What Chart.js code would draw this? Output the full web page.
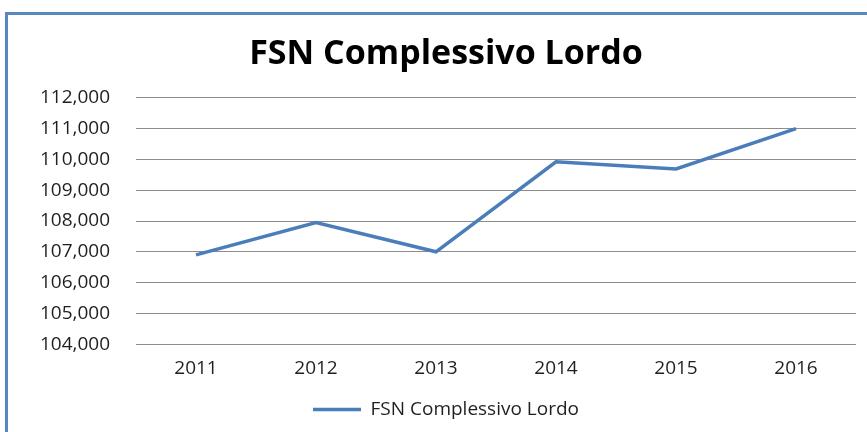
<!DOCTYPE html>
<html>
<head>
<meta charset="utf-8">
<script src="https://cdn.jsdelivr.net/npm/chart.js@4/dist/chart.umd.min.js"></script>
<style>
  html, body { margin: 0; padding: 0; background: #fff; overflow: hidden; }
  #frame { position: absolute; left: 5px; top: 12px; width: 900px; height: 440px;
           border-left: 3px solid #5B87C0; border-top: 3px solid #5B87C0; }
  #my-chart { position: absolute; left: 0; top: 0; }
</style>
</head>
<body>
<div id="frame"></div>
<canvas id="my-chart" width="867" height="432"></canvas>
<script>
// chart data
const years = ['2011', '2012', '2013', '2014', '2015', '2016']
const fsnValues = [106900, 107950, 107000, 109920, 109690, 111000]
const seriesName = 'FSN Complessivo Lordo'
const yMin = 104000
const yMax = 112000
const yStep = 1000

const lineColor = '#4A7EBB'
const textColor = '#1f1f1f'

let ctx = document.getElementById('my-chart').getContext('2d')

const data = {
    labels: years,
    datasets: [{
        label: seriesName,
        data: fsnValues,
        borderColor: lineColor,
        backgroundColor: lineColor,
        borderWidth: 3.5,
        pointRadius: 0,
        fill: false,
        tension: 0
    }]
}

const config = {
    type: 'line',
    data: data,
    options: {
        responsive: false,
        animation: false,
        layout: { padding: { top: 20, right: 11, bottom: 3, left: 36 } },
        plugins: {
            title: {
                display: true,
                text: seriesName,
                color: '#000',
                font: { family: 'Open Sans', size: 34, weight: 'bold' },
                padding: { top: 14, bottom: 23 }
            },
            legend: {
                position: 'bottom',
                labels: {
                    color: textColor,
                    font: { family: 'Open Sans', size: 19 },
                    usePointStyle: true,
                    pointStyle: 'line',
                    pointStyleWidth: 48,
                    padding: 7
                }
            },
            tooltip: { enabled: false }
        },
        scales: {
            x: {
                offset: true,
                grid: { display: false, drawTicks: false },
                border: { display: false },
                ticks: {
                    color: textColor,
                    font: { family: 'Open Sans', size: 19 },
                    padding: 13
                }
            },
            y: {
                min: yMin,
                max: yMax,
                afterFit: function(scale) { scale.width = 100 },
                grid: { color: '#8c8c8c', lineWidth: 1, drawTicks: false },
                border: { display: false },
                ticks: {
                    stepSize: yStep,
                    color: textColor,
                    font: { family: 'Open Sans', size: 19 },
                    padding: 26,
                    callback: function(v) { return v.toLocaleString('en-US') }
                }
            }
        }
    }
}

let chart = new Chart(ctx, config)
</script>
</body>
</html>
